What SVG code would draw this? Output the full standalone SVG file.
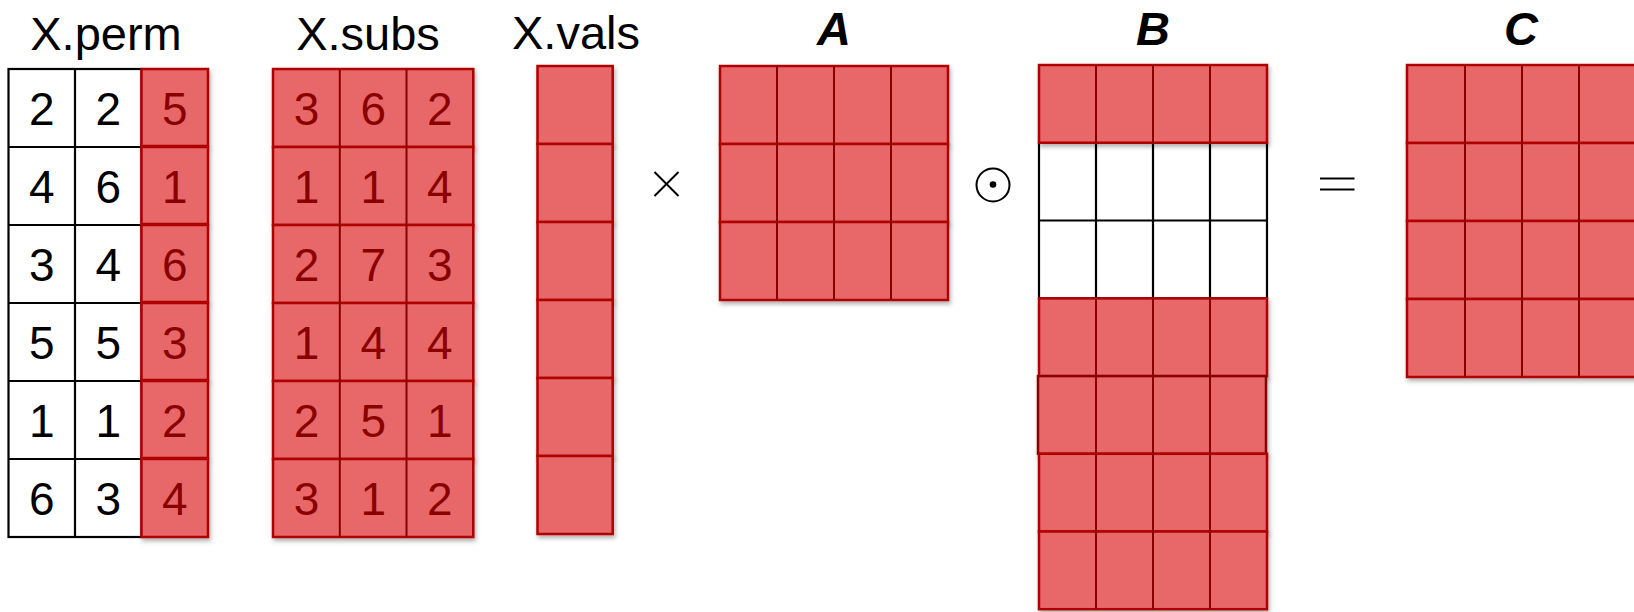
<svg xmlns="http://www.w3.org/2000/svg" width="1634" height="612" viewBox="0 0 1634 612">
<defs>
<filter id="sh" x="-10%" y="-20%" width="130%" height="160%">
<feDropShadow dx="1.5" dy="3" stdDeviation="2" flood-color="#000" flood-opacity="0.3"/>
</filter>
</defs>
<style>
.t{font-family:"Liberation Sans",Arial,sans-serif;font-size:47px;fill:#000;text-anchor:middle}
.m{font-family:"Liberation Sans",Arial,sans-serif;font-size:47px;font-weight:bold;font-style:italic;fill:#000;text-anchor:middle}
.n{font-family:"Liberation Sans",Arial,sans-serif;font-size:46px;text-anchor:middle;fill:#000}
.nr{fill:#8A0000}
.r{fill:#E8676A;stroke:#B00000;stroke-width:2.5;filter:url(#sh)}
.d{stroke:#8A0000;stroke-width:2}
.w{fill:#fff;stroke:#000;stroke-width:2.2}
.k{stroke:#000;stroke-width:2.2}
.op{stroke:#000;stroke-width:2;fill:none}
</style>
<rect width="1634" height="612" fill="#fff"/>

<g id="xperm">
<text class="t" x="106" y="50">X.perm</text>
<rect class="w" x="8.5" y="69" width="133" height="468"/>
<g class="k">
<line x1="75" y1="69" x2="75" y2="537"/>
<line x1="8.5" y1="147" x2="141.5" y2="147"/>
<line x1="8.5" y1="225" x2="141.5" y2="225"/>
<line x1="8.5" y1="303" x2="141.5" y2="303"/>
<line x1="8.5" y1="381" x2="141.5" y2="381"/>
<line x1="8.5" y1="459" x2="141.5" y2="459"/>
</g>
<rect class="r" x="141.5" y="69" width="66.5" height="77"/>
<rect class="r" x="141.5" y="147" width="66.5" height="77"/>
<rect class="r" x="141.5" y="225" width="66.5" height="77"/>
<rect class="r" x="141.5" y="303" width="66.5" height="77"/>
<rect class="r" x="141.5" y="381" width="66.5" height="77"/>
<rect class="r" x="141.5" y="459" width="66.5" height="78"/>
<g class="n">
<text x="41.75" y="125">2</text><text x="108.25" y="125">2</text><text class="nr" x="174.75" y="125">5</text>
<text x="41.75" y="203">4</text><text x="108.25" y="203">6</text><text class="nr" x="174.75" y="203">1</text>
<text x="41.75" y="281">3</text><text x="108.25" y="281">4</text><text class="nr" x="174.75" y="281">6</text>
<text x="41.75" y="359">5</text><text x="108.25" y="359">5</text><text class="nr" x="174.75" y="359">3</text>
<text x="41.75" y="437">1</text><text x="108.25" y="437">1</text><text class="nr" x="174.75" y="437">2</text>
<text x="41.75" y="515">6</text><text x="108.25" y="515">3</text><text class="nr" x="174.75" y="515">4</text>
</g>
</g>

<g id="xsubs">
<text class="t" x="368" y="50">X.subs</text>
<g>
<rect class="r" x="273" y="69" width="200.3" height="78"/>
<rect class="r" x="273" y="147" width="200.3" height="78"/>
<rect class="r" x="273" y="225" width="200.3" height="78"/>
<rect class="r" x="273" y="303" width="200.3" height="78"/>
<rect class="r" x="273" y="381" width="200.3" height="78"/>
<rect class="r" x="273" y="459" width="200.3" height="78"/>
</g>
<g class="d">
<line x1="339.8" y1="69" x2="339.8" y2="537"/>
<line x1="406.5" y1="69" x2="406.5" y2="537"/>
</g>
<g class="n nr">
<text x="306.5" y="125">3</text><text x="373.2" y="125">6</text><text x="439.8" y="125">2</text>
<text x="306.5" y="203">1</text><text x="373.2" y="203">1</text><text x="439.8" y="203">4</text>
<text x="306.5" y="281">2</text><text x="373.2" y="281">7</text><text x="439.8" y="281">3</text>
<text x="306.5" y="359">1</text><text x="373.2" y="359">4</text><text x="439.8" y="359">4</text>
<text x="306.5" y="437">2</text><text x="373.2" y="437">5</text><text x="439.8" y="437">1</text>
<text x="306.5" y="515">3</text><text x="373.2" y="515">1</text><text x="439.8" y="515">2</text>
</g>
</g>

<g id="xvals">
<text class="t" x="576" y="49">X.vals</text>
<rect class="r" x="537.5" y="66" width="75.2" height="78"/>
<rect class="r" x="537.5" y="144" width="75.2" height="78"/>
<rect class="r" x="537.5" y="222" width="75.2" height="78"/>
<rect class="r" x="537.5" y="300" width="75.2" height="78"/>
<rect class="r" x="537.5" y="378" width="75.2" height="78"/>
<rect class="r" x="537.5" y="456" width="75.2" height="78"/>
</g>

<g id="times">
<path class="op" d="M654.5 172 L678.5 196 M678.5 172 L654.5 196"/>
</g>

<g id="A">
<text class="m" x="834" y="45">A</text>
<rect class="r" x="720" y="66" width="228" height="78"/>
<rect class="r" x="720" y="144" width="228" height="78"/>
<rect class="r" x="720" y="222" width="228" height="78"/>
<g class="d">
<line x1="777" y1="66" x2="777" y2="300"/>
<line x1="834" y1="66" x2="834" y2="300"/>
<line x1="891" y1="66" x2="891" y2="300"/>
</g>
</g>

<g id="odot">
<circle class="op" cx="993" cy="185" r="16.5"/>
<circle cx="993" cy="184.5" r="3.3" fill="#000"/>
</g>

<g id="B">
<text class="m" x="1153" y="45">B</text>
<rect class="w" x="1039" y="142.7" width="228" height="155.7"/>
<g class="k">
<line x1="1039" y1="220.5" x2="1267" y2="220.5"/>
<line x1="1096" y1="142.7" x2="1096" y2="298.4"/>
<line x1="1153" y1="142.7" x2="1153" y2="298.4"/>
<line x1="1210" y1="142.7" x2="1210" y2="298.4"/>
</g>
<rect class="r" x="1039" y="65" width="228" height="77.7"/>
<rect class="r" x="1039" y="298.4" width="228" height="77.7"/>
<rect class="r" x="1038" y="376.1" width="228" height="77.7" style="stroke:#8A0000"/>
<rect class="r" x="1039" y="453.8" width="228" height="77.7"/>
<rect class="r" x="1039" y="531.5" width="228" height="77.7"/>
<g class="d">
<line x1="1096" y1="65" x2="1096" y2="142.7"/>
<line x1="1153" y1="65" x2="1153" y2="142.7"/>
<line x1="1210" y1="65" x2="1210" y2="142.7"/>
<line x1="1096" y1="298.4" x2="1096" y2="609"/>
<line x1="1153" y1="298.4" x2="1153" y2="609"/>
<line x1="1210" y1="298.4" x2="1210" y2="609"/>
</g>
</g>

<g id="equals">
<line class="op" x1="1320" y1="178.5" x2="1354.5" y2="178.5"/>
<line class="op" x1="1320" y1="189.5" x2="1354.5" y2="189.5"/>
</g>

<g id="C">
<text class="m" x="1521" y="45">C</text>
<rect class="r" x="1407" y="65" width="230" height="78"/>
<rect class="r" x="1407" y="143" width="230" height="78"/>
<rect class="r" x="1407" y="221" width="230" height="78"/>
<rect class="r" x="1407" y="299" width="230" height="78"/>
<g class="d">
<line x1="1465" y1="65" x2="1465" y2="377"/>
<line x1="1522" y1="65" x2="1522" y2="377"/>
<line x1="1579" y1="65" x2="1579" y2="377"/>
</g>
</g>
</svg>
